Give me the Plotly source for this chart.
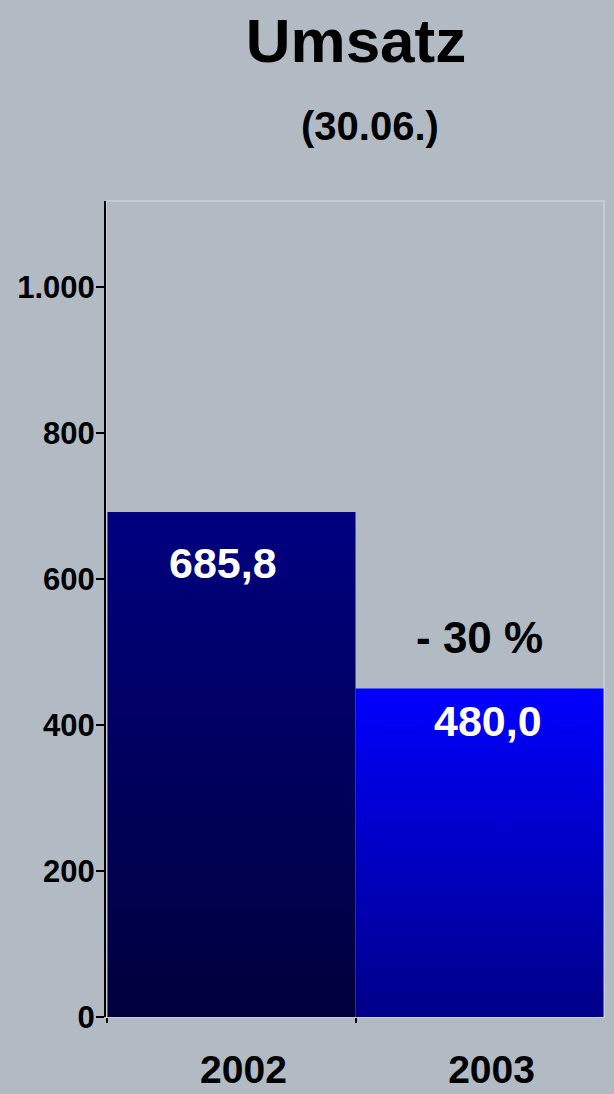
import plotly.graph_objects as go

# ---- data ----
categories = ["2002", "2003"]
bar_values = [692, 450]            # bar heights as drawn in the picture
bar_labels = ["685,8", "480,0"]    # value labels printed on the bars
change_label = "- 30 %"
y_tickvals = [0, 200, 400, 600, 800, 1000]
title_text = "Umsatz"
subtitle_text = "(30.06.)"

top_colors = ["#000080", "#0000ff"]
bottom_colors = ["#00003c", "#000088"]

FONT = "Liberation Sans, Arial, sans-serif"

fig = go.Figure()
for i, (cat, v) in enumerate(zip(categories, bar_values)):
    fig.add_trace(go.Scatter(
        x=[i - 0.5, i - 0.5, i + 0.5, i + 0.5, i - 0.5],
        y=[0, v, v, 0, 0],
        mode="lines",
        line=dict(width=0),
        fill="toself",
        fillgradient=dict(type="vertical",
                          colorscale=[[0, bottom_colors[i]], [1, top_colors[i]]]),
        name=cat,
        hoverinfo="skip",
        showlegend=False,
    ))

# plot area frame (light grey top/right)
fig.add_shape(type="rect", xref="x domain", yref="y domain", x0=0, x1=1, y0=0, y1=1,
              line=dict(color="#c9cbd0", width=2), layer="below")

# value labels
fig.add_annotation(x=0, y=622, text=bar_labels[0], showarrow=False, xshift=-8,
                   font=dict(family=FONT, size=43, color="white", weight="bold"))
fig.add_annotation(x=1, y=405, text=bar_labels[1], showarrow=False, xshift=8,
                   font=dict(family=FONT, size=43, color="white", weight="bold"))
fig.add_annotation(x=1, y=520, text=change_label, showarrow=False,
                   font=dict(family=FONT, size=44, color="black", weight="bold"))
# subtitle
fig.add_annotation(xref="paper", yref="paper", x=0.530, y=1.0919, text=subtitle_text,
                   showarrow=False, yanchor="middle",
                   font=dict(family=FONT, size=40, color="black", weight="bold"))

boundaries = [i - 0.5 for i in range(len(categories))]

fig.update_layout(
    width=614, height=1094,
    margin=dict(l=106, r=10, t=201, b=77, autoexpand=False),
    paper_bgcolor="#b2bbc3",
    plot_bgcolor="rgba(0,0,0,0)",
    separators=",.",
    title=dict(text=title_text, x=356 / 614, xanchor="center", xref="container",
               y=1 - 40 / 1094, yanchor="middle", yref="container",
               font=dict(family=FONT, size=62, color="black", weight="bold")),
    xaxis=dict(
        range=[-0.506, 1.502],
        tickvals=list(range(len(categories))), ticktext=categories,
        ticks="", showgrid=False, zeroline=False, showline=False,
        ticklabelshift=12, ticklabelstandoff=26,
        tickfont=dict(family=FONT, size=39, color="black", weight="bold"),
        minor=dict(ticks="outside", tickmode="array", tickvals=boundaries,
                   ticklen=5, tickwidth=2, tickcolor="black", showgrid=False),
    ),
    yaxis=dict(
        range=[0, 1118],
        tickvals=y_tickvals, tickformat=",d",
        ticks="outside", ticklen=8, tickwidth=2, tickcolor="black",
        showline=True, linecolor="black", linewidth=2,
        showgrid=False, zeroline=False, ticklabelstandoff=-5,
        tickfont=dict(family=FONT, size=31, color="black", weight="bold"),
    ),
)

fig.write_html("out.html", config={"displayModeBar": False},
               post_script="document.body.style.margin='0';")
